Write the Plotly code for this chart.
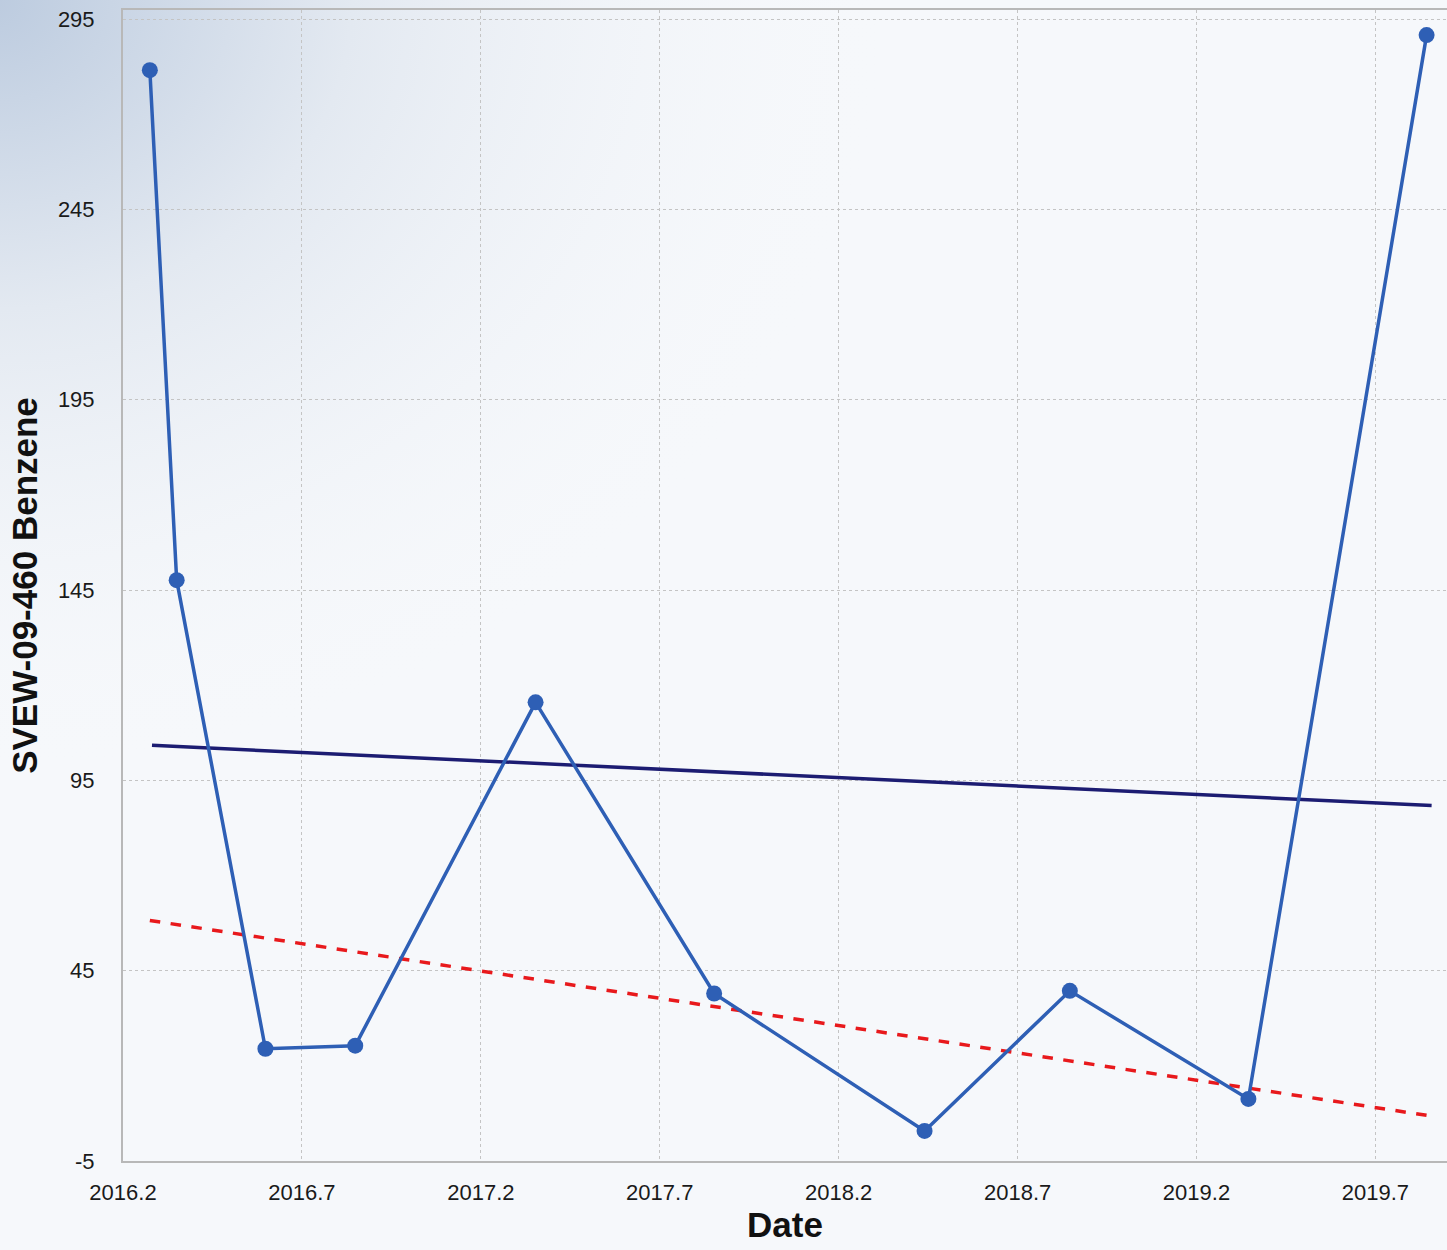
import plotly.graph_objects as go

# sample dates (decimal years) and benzene concentrations
dates = [2016.275, 2016.35, 2016.598, 2016.849, 2017.353, 2017.852, 2018.44, 2018.846, 2019.345, 2019.843]
benzene = [281.6, 147.6, 24.5, 25.3, 115.5, 39.0, 2.9, 39.7, 11.3, 290.8]

# fitted trend lines (end points)
trend_x = [2016.281, 2019.857]
trend_y = [104.2, 88.4]
lower_x = [2016.275, 2019.857]
lower_y = [58.2, 6.8]

x_ticks = [2016.2, 2016.7, 2017.2, 2017.7, 2018.2, 2018.7, 2019.2, 2019.7]
y_ticks = [-5, 45, 95, 145, 195, 245, 295]

# soft bluish glow in the top-left corner
glow = ("data:image/svg+xml;utf8,"
        "<svg xmlns='http://www.w3.org/2000/svg' width='1447' height='1250'>"
        "<defs><radialGradient id='g' cx='0' cy='0' r='0.62' gradientUnits='objectBoundingBox'>"
        "<stop offset='0' stop-color='%23bccbdf'/>"
        "<stop offset='0.4' stop-color='%23e3e9f1'/>"
        "<stop offset='1' stop-color='%23f6f8fb' stop-opacity='0'/>"
        "</radialGradient></defs>"
        "<rect width='1447' height='1250' fill='url(%23g)'/></svg>")

fig = go.Figure()

fig.add_trace(go.Scatter(
    x=trend_x, y=trend_y, mode="lines",
    line=dict(color="#1c1c72", width=3.5),
    hoverinfo="skip",
))
fig.add_trace(go.Scatter(
    x=lower_x, y=lower_y, mode="lines",
    line=dict(color="#e8191c", width=3.5, dash="dash"),
    hoverinfo="skip",
))
fig.add_trace(go.Scatter(
    x=dates, y=benzene, mode="lines+markers",
    line=dict(color="#2e5fb5", width=3.5),
    marker=dict(color="#2e5fb5", size=16),
))

font_fam = "Liberation Sans, Arial, sans-serif"
axis_font = dict(family=font_fam, size=22, color="#1a1a1a")
title_font = dict(family=font_fam, size=35, color="#111")

fig.update_layout(
    width=1447, height=1250,
    margin=dict(l=123, r=0, t=10, b=89),
    paper_bgcolor="#f6f8fb",
    plot_bgcolor="rgba(0,0,0,0)",
    showlegend=False,
    images=[dict(source=glow, xref="paper", yref="paper", x=-0.1, y=1.01,
                 sizex=1.1, sizey=1.09, xanchor="left", yanchor="top",
                 sizing="stretch", layer="below")],
    xaxis=dict(
        range=[2016.2, 2019.9],
        tickvals=x_ticks, ticktext=[f"{v:.1f}" for v in x_ticks],
        tickfont=axis_font, ticks="", ticklen=0, ticklabelstandoff=11,
        showgrid=True, gridcolor="#c4c4c4", griddash="dot", gridwidth=1,
        showline=True, linecolor="#b8b8b8", linewidth=2, mirror=True,
        zeroline=False,
        title=dict(text="<b>Date</b>", font=title_font, standoff=8),
    ),
    yaxis=dict(
        range=[-5, 297.4],
        tickvals=y_ticks, ticktext=[str(v) for v in y_ticks],
        tickfont=axis_font, ticks="", ticklen=0, ticklabelstandoff=22,
        showgrid=True, gridcolor="#c4c4c4", griddash="dot", gridwidth=1,
        showline=True, linecolor="#b8b8b8", linewidth=2,
        zeroline=False,
        title=dict(text="<b>SVEW-09-460 Benzene</b>", font=title_font, standoff=10),
    ),
)

fig.write_html("out.html", config={"displayModeBar": False},
               post_script="document.body.style.margin='0px';")
